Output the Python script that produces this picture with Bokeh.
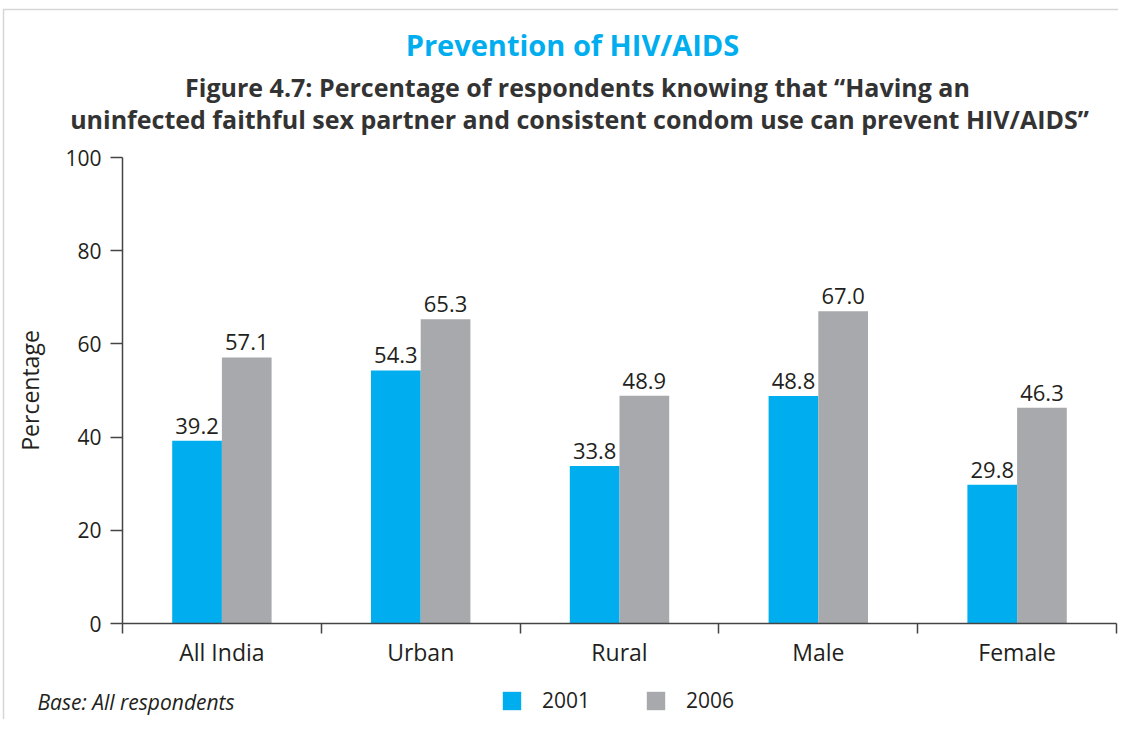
from bokeh.plotting import figure
from bokeh.models import (ColumnDataSource, LinearAxis, FixedTicker, Label, LabelSet, Legend,
                          LegendItem, Range1d, BoxAnnotation)
from bokeh.transform import dodge
from bokeh.embed import file_html
from bokeh.resources import INLINE
from bokeh.core.properties import value

categories = ["All India", "Urban", "Rural", "Male", "Female"]
vals_2001 = [39.2, 54.3, 33.8, 48.8, 29.8]
vals_2006 = [57.1, 65.3, 48.9, 67.0, 46.3]
series = ["2001", "2006"]
y_ticks = [0, 20, 40, 60, 80, 100]

title_main = "Prevention of HIV/AIDS"
title_l1 = "Figure 4.7: Percentage of respondents knowing that \u201cHaving an"
title_l2 = "uninfected faithful sex partner and consistent condom use can prevent HIV/AIDS\u201d"
base_note = "Base: All respondents"

FONT = "Open Sans"
TXT = "#231f20"
AX = "#444444"
BLUE = "#00AEEF"
GREY = "#A7A9AC"

W, H = 1118, 719
n = len(categories)
xc = [i + 0.5 for i in range(n)]          # category slot centres

src = ColumnDataSource(dict(
    x=xc, cat=categories,
    v1=vals_2001, v2=vals_2006,
    l1=[f"{v:.1f}" for v in vals_2001],
    l2=[f"{v:.1f}" for v in vals_2006],
))

# frame fills the canvas; the plot area (0..5, 0..100) sits inside it
PX = 198.8   # px per category slot
PY = 4.66    # px per percentage point
X0, Y0 = 122, 623   # pixel position of the data origin
p = figure(width=W, height=H, output_backend="svg", toolbar_location=None,
           x_range=Range1d(-X0 / PX, (W - X0) / PX),
           y_range=Range1d(-(H - Y0) / PY, Y0 / PY),
           x_axis_location=None, y_axis_location=None,
           min_border_left=0, min_border_right=0, min_border_top=0, min_border_bottom=0)
p.outline_line_color = None
p.grid.grid_line_color = None

r1 = p.vbar(x=dodge("x", -0.125), top="v1", width=0.25, source=src,
            fill_color=BLUE, line_color=None)
r2 = p.vbar(x=dodge("x", 0.125), top="v2", width=0.25, source=src,
            fill_color=GREY, line_color=None)

for col, lab, off in (("v1", "l1", -0.125), ("v2", "l2", 0.125)):
    p.add_layout(LabelSet(x=dodge("x", off), y=col, text=lab, source=src,
                          text_align="center", text_baseline="bottom", y_offset=7,
                          text_font=value(FONT), text_font_size="22px", text_color=TXT))

# y axis
yax = LinearAxis(fixed_location=0, bounds=(y_ticks[0], y_ticks[-1]),
                 ticker=FixedTicker(ticks=y_ticks), minor_tick_line_color=None,
                 major_tick_in=0, major_tick_out=12, axis_line_color=AX, axis_line_width=1.5,
                 major_tick_line_color=AX, major_tick_line_width=1.5, major_label_standoff=9,
                 major_label_text_font=FONT, major_label_text_font_size="21px",
                 major_label_text_color=TXT, axis_label="Percentage", axis_label_text_font=FONT,
                 axis_label_text_font_style="normal", axis_label_text_font_size="23px",
                 axis_label_text_color=TXT, axis_label_standoff=16)
p.add_layout(yax, "left")

# x axis line with ticks at category boundaries
bt = LinearAxis(fixed_location=0, bounds=(0, n), ticker=FixedTicker(ticks=list(range(n + 1))),
                axis_line_color=AX, axis_line_width=1.5, major_tick_in=0, major_tick_out=10,
                major_tick_line_color=AX, major_tick_line_width=1.5,
                minor_tick_line_color=None, major_label_text_color=None,
                major_label_text_font_size="0px", major_label_standoff=0)
p.add_layout(bt, "below")
# category labels
cax = LinearAxis(fixed_location=0, ticker=FixedTicker(ticks=xc),
                 major_label_overrides={x: c for x, c in zip(xc, categories)},
                 axis_line_color=None, major_tick_line_color=None, minor_tick_line_color=None,
                 major_tick_in=0, major_tick_out=0, major_label_standoff=12,
                 major_label_text_font=FONT, major_label_text_font_size="23px",
                 major_label_text_color=TXT)
p.add_layout(cax, "below")

def px2x(px):
    return (px - X0) / PX

def px2y(py):
    return (Y0 - py) / PY

# titles
p.add_layout(Label(x=px2x(572), y=px2y(44), text=title_main, text_align="center",
                   text_baseline="middle", text_font=FONT, text_font_size="29px",
                   text_font_style="bold", text_color=BLUE))
p.add_layout(Label(x=px2x(577), y=px2y(86), text=title_l1, text_align="center",
                   text_baseline="middle", text_font=FONT, text_font_size="25px",
                   text_font_style="bold", text_color="#333333"))
p.add_layout(Label(x=px2x(579), y=px2y(118), text=title_l2, text_align="center",
                   text_baseline="middle", text_font=FONT, text_font_size="25px",
                   text_font_style="bold", text_color="#333333"))
p.add_layout(Label(x=px2x(37), y=px2y(701), text=base_note, text_align="left",
                   text_baseline="middle", text_font=FONT, text_font_size="21px",
                   text_font_style="italic", text_color=TXT))

# legend
legend = Legend(items=[LegendItem(label=series[0], renderers=[r1]),
                       LegendItem(label=series[1], renderers=[r2])],
                orientation="horizontal", location=(500, 5),
                glyph_width=23, glyph_height=23, label_standoff=19, spacing=54,
                padding=0, margin=0, border_line_color=None, background_fill_alpha=0,
                label_text_font=FONT, label_text_font_size="21px", label_text_color=TXT,
                label_height=23)
p.add_layout(legend, "center")

# outer frame line of the figure panel
p.add_layout(BoxAnnotation(left=px2x(3), top=px2y(9), right=px2x(W + 50), bottom=px2y(H + 50),
                           fill_alpha=0, line_color="#777777", line_width=1.5))

open("out.html", "w").write(file_html(p, INLINE))
